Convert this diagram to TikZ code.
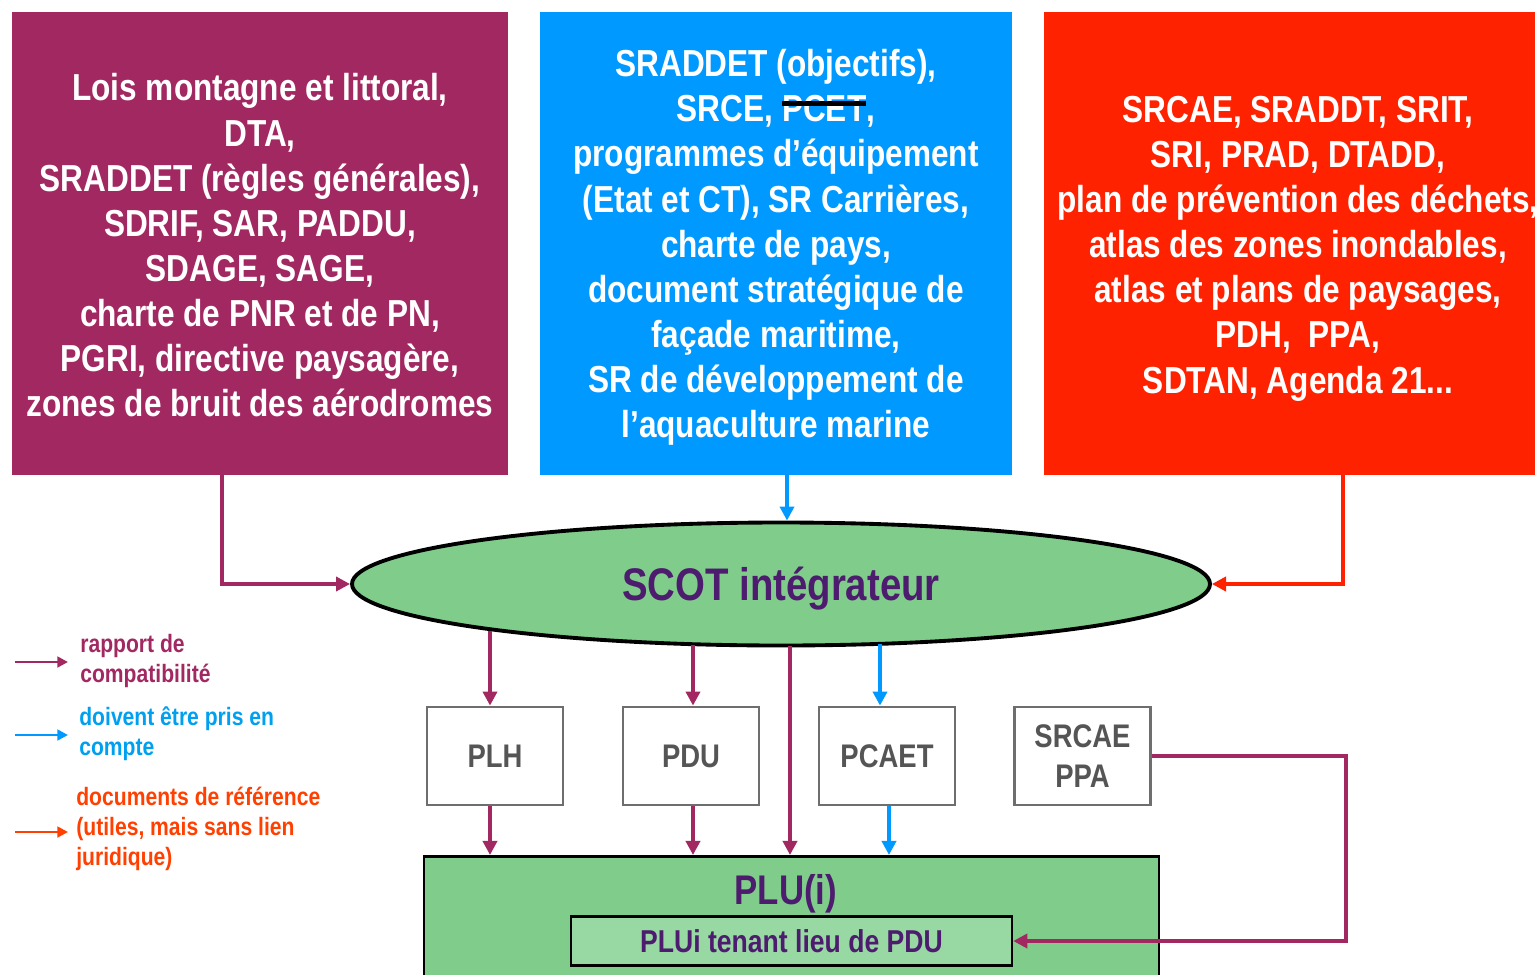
\documentclass[tikz,border=0pt]{standalone}
\usepackage{fontspec}
\setmainfont[FakeStretch=0.84]{Liberation Sans}
\usetikzlibrary{shapes.geometric,arrows.meta,calc}
\definecolor{cpurple}{RGB}{162,40,98}
\definecolor{cblue}{RGB}{0,153,255}
\definecolor{cred}{RGB}{255,34,0}
\definecolor{cgreen}{RGB}{128,205,139}
\definecolor{clight}{RGB}{152,216,163}
\definecolor{cdark}{RGB}{78,28,110}
\definecolor{cgray}{RGB}{85,85,85}
\definecolor{cbgray}{RGB}{110,110,110}
\definecolor{lblue}{RGB}{0,160,240}
\definecolor{lred}{RGB}{255,64,0}
\newcommand{\strk}[1]{\setbox0\hbox{#1}\copy0\llap{\color{black}\rule[0.42em]{\wd0}{2.8pt}}}
\begin{document}
\begin{tikzpicture}[x=0.02cm,y=-0.02cm,
  boxfill/.style={inner sep=0pt, minimum height=463*0.02cm},
  bigtext/.style={text=white, align=center, inner sep=0pt,
    font=\bfseries\fontsize{21.4}{25.7}\selectfont},
  sbox/.style={draw=cbgray, line width=1.6pt, fill=white, text=cgray, align=center,
    minimum width=136*0.02cm, minimum height=98*0.02cm, inner sep=0pt,
    font=\bfseries\fontsize{18.6}{22.5}\selectfont},
  parr/.style={draw=cpurple, line width=2.2pt, -{Triangle[length=8pt,width=8pt]}},
  barr/.style={draw=cblue, line width=2.2pt, -{Triangle[length=8pt,width=8pt]}},
  rarr/.style={draw=cred, line width=2.2pt, -{Triangle[length=8pt,width=8pt]}},
  larr/.style={line width=1.6pt, -{Triangle[length=6pt,width=6pt]}},
  legtext/.style={anchor=west, align=left, inner sep=0pt,
    font=\bfseries\fontsize{14.3}{17}\selectfont}
]
\useasboundingbox (0,0) rectangle (1535,974);
\fill[white] (0,0) rectangle (1535,974);

% top boxes
\node[boxfill, fill=cpurple, minimum width=496*0.02cm] (lois) at (260,243.5) {};
\node[boxfill, fill=cblue, minimum width=472*0.02cm] (obj) at (776,243.5) {};
\node[boxfill, fill=cred, minimum width=508*0.02cm] (ref) at (1298,243.5) {};
\node[bigtext] (loist) at ([yshift=-0.04cm]lois.center)
 {Lois montagne et littoral,\\DTA,\\SRADDET (règles générales),\\SDRIF, SAR, PADDU,\\SDAGE, SAGE,\\charte de PNR et de PN,\\PGRI, directive paysagère,\\zones de bruit des aérodromes};
\node[bigtext] (objt) at ([yshift=-0.08cm]obj.center)
 {SRADDET (objectifs),\\SRCE, \strk{PCET},\\programmes d’équipement\\(Etat et CT), SR Carrières,\\charte de pays,\\document stratégique de\\façade maritime,\\SR de développement de\\l’aquaculture marine};
\node[bigtext] (reft) at ([yshift=-0.1cm]ref.center)
 {SRCAE, SRADDT, SRIT,\\SRI, PRAD, DTADD,\\plan de prévention des déchets,\\atlas des zones inondables,\\atlas et plans de paysages,\\PDH,~ PPA,\\SDTAN, Agenda 21...};

% ellipse
\node[ellipse, draw=black, line width=2.2pt, fill=cgreen, inner sep=0pt,
  minimum width=858*0.02cm, minimum height=123*0.02cm] (scot) at (781,584) {};
\node[text=cdark, inner sep=0pt, font=\bfseries\fontsize{26}{30}\selectfont] (scott) at (781,589) {SCOT intégrateur};

% small boxes
\node[sbox] (plh) at (495,756) {PLH};
\node[sbox] (pdu) at (691,756) {PDU};
\node[sbox] (pcaet) at (887,756) {PCAET};
\node[sbox] (srcae) at (1082.5,756) {SRCAE\\PPA};

% PLU box
\node[draw=black, line width=1.6pt, fill=cgreen, minimum width=735*0.02cm, minimum height=150*0.02cm,
  inner sep=0pt, anchor=north] (plu) at (791.5,855) {};
\node[text=cdark, inner sep=0pt, font=\bfseries\fontsize{23.6}{28}\selectfont] (plulab) at (786,894) {PLU(i)};
\node[draw=black, line width=1.4pt, fill=clight, minimum width=441*0.02cm, minimum height=49*0.02cm,
  inner sep=0pt, text=cdark, font=\bfseries\fontsize{18}{22}\selectfont] (inner) at (791.5,941) {PLUi tenant lieu de PDU};

% arrows to SCOT
\draw[parr] ([xshift=-0.76cm]lois.south) |- (scot.west);
\draw[barr] ([xshift=0.22cm]obj.south) -- ([xshift=0.22cm]obj.south |- scot.north);
\draw[rarr] ([xshift=0.9cm]ref.south) |- (scot.east);

% start points on the ellipse border
\coordinate (s1) at ($(scot.center)+(-291,47)$);
\coordinate (s2) at ($(scot.center)+(-88,61)$);
\coordinate (s3) at ($(scot.center)+(9,62)$);
\coordinate (s4) at ($(scot.center)+(99,60)$);

% arrows from SCOT
\draw[parr] (s1) -- (s1 |- plh.north);
\draw[parr] (s2) -- (s2 |- pdu.north);
\draw[parr] (s3) -- (s3 |- plu.north);
\draw[barr] (s4) -- (s4 |- pcaet.north);

% arrows to PLU
\draw[parr] ([xshift=-0.1cm]plh.south) -- ([xshift=-0.1cm]plh.south |- plu.north);
\draw[parr] ([xshift=0.04cm]pdu.south) -- ([xshift=0.04cm]pdu.south |- plu.north);
\draw[barr] ([xshift=0.04cm]pcaet.south) -- ([xshift=0.04cm]pcaet.south |- plu.north);
\coordinate (turn) at (1346,757);
\draw[parr] (srcae.east) -- (srcae.east -| turn) |- (inner.east);

% legend
\coordinate (l1a) at (15,662); \coordinate (l1b) at (68,662);
\coordinate (l2a) at (15,735); \coordinate (l2b) at (68,735);
\coordinate (l3a) at (15,832); \coordinate (l3b) at (68,832);
\draw[larr, draw=cpurple] (l1a) -- (l1b);
\draw[larr, draw=cblue] (l2a) -- (l2b);
\draw[larr, draw=lred] (l3a) -- (l3b);
\node[legtext, text=cpurple] (t1) at (80,661) {rapport de\\compatibilité};
\node[legtext, text=lblue] (t2) at (79,734) {doivent être pris en\\compte};
\node[legtext, text=lred] (t3) at (76,829) {documents de référence\\(utiles, mais sans lien\\juridique)};
\end{tikzpicture}
\end{document}
